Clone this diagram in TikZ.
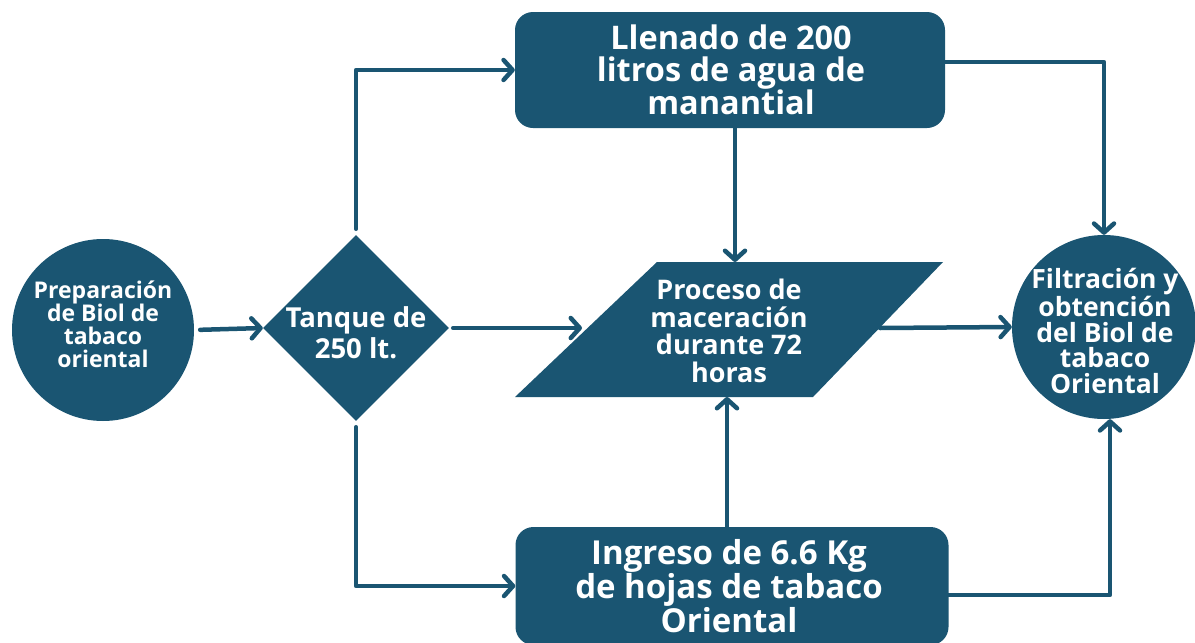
\documentclass[tikz,border=0pt]{standalone}
\usepackage{fontspec}
\setmainfont{Open Sans}
\usetikzlibrary{shapes.geometric,arrows.meta}
\definecolor{teal}{HTML}{1A5572}
\begin{document}
\begin{tikzpicture}[x=1pt,y=-1pt,
  shapefill/.style={fill=teal,draw=none,inner sep=0pt},
  txt/.style={text=white,font=\bfseries,align=center,inner sep=0pt},
  boxnode/.style={shapefill,rectangle,rounded corners=18pt,minimum width=430pt,minimum height=116pt},
  arr/.style={draw=teal,line width=4.5pt,line cap=round,line join=round,
    -{Straight Barb[length=9pt,width=20pt,line width=4.5pt,round]}}]
\useasboundingbox (0,0) rectangle (1195,643);
% shapes
\node[shapefill,circle,minimum size=182pt] (c1) at (103,330) {};
\node[txt,font=\fontsize{23}{23}\selectfont\bfseries] (c1t) at (103,324) {Preparación\\de Biol de\\tabaco\\oriental};
\node[shapefill,diamond,minimum width=186pt,minimum height=186pt] (tank) at (356,328) {};
\node[txt,font=\fontsize{27.5}{31}\selectfont\bfseries] (tankt) at (356,333) {Tanque de\\250 lt.};
\node[boxnode] (top) at (730,70) {};
\node[txt,font=\fontsize{32.5}{32}\selectfont\bfseries] (topt) at (731,70) {Llenado de 200\\litros de agua de\\manantial};
\node[boxnode,minimum width=433pt,minimum height=118pt] (bot) at (732,586) {};
\node[txt,font=\fontsize{33}{30}\selectfont\bfseries] (bott) at (729,586) {Ingreso de 6.6 Kg\\de hojas de tabaco\\Oriental};
\fill[teal] (657,262) -- (943,262) -- (813,397) -- (515,397) -- cycle;
\node[txt,font=\fontsize{27}{27.5}\selectfont\bfseries] (para) at (729,331) {Proceso de\\maceración\\durante 72\\horas};
\node[shapefill,circle,minimum size=184pt] (c2) at (1104,327) {};
\node[txt,font=\fontsize{26.5}{25.5}\selectfont\bfseries] (c2t) at (1105,331) {Filtración y\\obtención\\del Biol de\\tabaco\\Oriental};
% connector end points on the parallelogram
\coordinate (pTop) at (735,262);
\coordinate (pBot) at (727,397);
\coordinate (pLeft) at (582,328);
\coordinate (pRight) at (880,328);
% connectors
\draw[arr,shorten <=6pt] (c1.east) -- (tank.west);
\draw[arr,shorten <=6pt] (tank.north) |- (top.west);
\draw[arr,shorten <=6pt] (tank.south) |- (bot.west);
\draw[arr] ([yshift=8pt]top.east) -| (c2.north);
\draw[arr] (top.south -| pTop) -- (pTop);
\draw[arr,shorten <=4pt] (tank.east) -- (pLeft);
\draw[arr] (pRight) -- (c2.west);
\draw[arr] (bot.north -| pBot) -- (pBot);
\draw[arr] ([yshift=-9pt]bot.east) -| ([xshift=6pt]c2.south);
\end{tikzpicture}
\end{document}
